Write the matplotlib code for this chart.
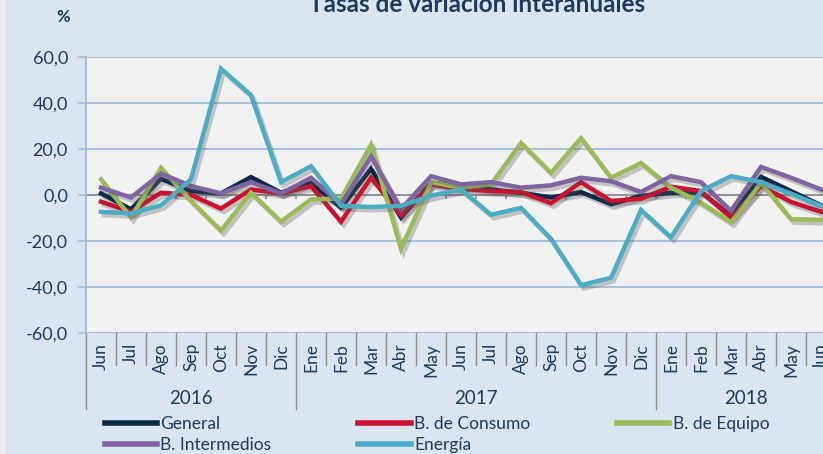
import matplotlib.pyplot as plt
import matplotlib.patheffects as pe
from matplotlib.transforms import blended_transform_factory
from matplotlib.patches import Rectangle
import numpy as np

# -----------------------data-----------------------
months = ['Jun', 'Jul', 'Ago', 'Sep', 'Oct', 'Nov', 'Dic',
          'Ene', 'Feb', 'Mar', 'Abr', 'May', 'Jun', 'Jul', 'Ago', 'Sep', 'Oct', 'Nov', 'Dic',
          'Ene', 'Feb', 'Mar', 'Abr', 'May', 'Jun']
years = ['2016', '2017', '2018']
year_start = [0, 7, 19]   # first month index of each year

general = [0.7, -6.2, 7.0, 1.7, 0.7, 7.8, 1.0, 5.3, -5.5, 11.4, -9.8, 5.3,
           3.9, 2.4, 1.0, -1.1, 1.3, -4.0, -0.4, 1.0, 1.3, -9.0, 7.9, 1.7, -4.5]
consumo = [-2.9, -7.3, 1.0, 0.0, -5.9, 2.4, 0.7, 3.9, -11.6, 7.5, -8.8, 4.6,
           2.7, 1.7, 1.3, -3.6, 5.6, -2.6, -1.6, 3.6, 1.7, -9.8, 3.9, -3.0, -7.3]
equipo = [6.8, -9.8, 11.8, -2.6, -15.5, 1.0, -11.6, -1.9, -1.6, 21.8, -23.4, 5.6,
          3.2, 4.6, 22.6, 9.6, 24.7, 7.5, 13.9, 3.2, -3.3, -11.9, 5.3, -10.5, -10.8]
intermedios = [3.2, -1.1, 9.3, 3.9, 0.7, 5.6, 0.7, 7.5, -4.0, 16.8, -6.2, 8.2,
               4.6, 5.6, 3.2, 4.2, 7.5, 6.0, 1.3, 8.2, 5.6, -6.9, 12.2, 7.5, 2.4]
energia = [-7.3, -8.0, -4.5, 6.8, 54.9, 43.4, 5.6, 12.5, -4.7, -5.2, -4.7, -0.3,
           2.4, -8.6, -5.6, -19.1, -39.2, -36.0, -6.5, -18.4, 1.7, 8.2, 5.6, 0.6, -4.7]

series = [('General', general, '#0b2a47'),
          ('B. de Consumo', consumo, '#cc1030'),
          ('B. de Equipo', equipo, '#9bbb59'),
          ('B. Intermedios', intermedios, '#8064a2'),
          ('Energía', energia, '#4bacc6')]

# -----------------------fig configuration-----------------------
plt.rcParams['font.family'] = ['Lato', 'DejaVu Sans']
navy = '#1c3a5e'
grid_blue = '#a7bfdc'
sep_gray = '#8c8c8c'
W, H = 823, 454

fig = plt.figure(figsize=(W / 100, H / 100), dpi=100)
fig.patch.set_facecolor('#dbe5f1')
fig.patches.append(Rectangle((0, 0), 6 / W, 1, transform=fig.transFigure,
                             facecolor='#ececec', edgecolor='none', zorder=0))

x = np.arange(len(months))
ax = fig.add_axes([86 / W, (H - 333) / H, 750 / W, 276 / H])
ax.set_facecolor('#f2f2f2')
ax.set_xlim(-0.5, len(months) - 0.5)
ax.set_ylim(-60, 60)

ax.set_yticks(np.arange(-60, 61, 20))
ax.set_yticklabels([f'{v:.1f}'.replace('.', ',') for v in np.arange(-60, 61, 20)],
                   fontsize=13, color=navy)
ax.tick_params(axis='y', length=6, color=grid_blue, width=1.2, pad=7)
ax.grid(axis='y', color=grid_blue, linewidth=1.5)
ax.set_axisbelow(True)
for s in ['top', 'right', 'bottom']:
    ax.spines[s].set_visible(False)
ax.spines['left'].set_color(grid_blue)
ax.spines['left'].set_linewidth(1.5)
ax.set_xticks([])

# category axis at zero with tick marks between months
ax.axhline(0, color='#8c8c8c', linewidth=1.2, zorder=1)
ax.vlines(x[:-1] + 0.5, -1.8, 0, color='#8c8c8c', linewidth=1.2, zorder=1)

# lines with shadow
handles = []
for name, vals, col in series:
    ln, = ax.plot(x, vals, color=col, linewidth=3.2, label=name, solid_joinstyle='miter',
                  path_effects=[pe.SimpleLineShadow(offset=(2, -2.5), shadow_color='#555555', alpha=0.3),
                                pe.Normal()], zorder=3)
    handles.append(ln)

# multi-level category labels
tr = blended_transform_factory(ax.transData, ax.transAxes)
px = 1 / 276   # one pixel in axes fraction (vertical)
for i, m in enumerate(months):
    ax.text(i, -10 * px, m, transform=tr, rotation=90, ha='center', va='top',
            fontsize=12.5, color=navy, clip_on=False)
bounds = [yi - 0.5 for yi in year_start] + [len(months) - 0.5]
for i in range(len(months) - 1):
    b = i + 0.5
    if b in bounds:
        continue
    ax.plot([b, b], [0, -32 * px], transform=tr, color=sep_gray, linewidth=1, clip_on=False)
for b in bounds[:-1]:
    ax.plot([b, b], [0, -76 * px], transform=tr, color=sep_gray, linewidth=1, clip_on=False)
for k, yr in enumerate(years):
    ax.text((bounds[k] + bounds[k + 1]) / 2, -65 * px, yr, transform=tr, ha='center', va='center',
            fontsize=13.5, color=navy, clip_on=False)

# title and unit
fig.text(477 / W, 1 - 12 / H, 'Tasas de variación interanuales', ha='center', va='baseline',
         fontsize=17.5, fontweight='bold', color=navy)
fig.text(63 / W, 1 - 17 / H, '%', ha='center', va='center', fontsize=12,
         fontweight='bold', color=navy)

# legend (row-wise order)
order = [0, 3, 1, 4, 2]
leg = fig.legend([handles[i] for i in order], [series[i][0] for i in order],
                 ncol=3, frameon=False, loc='upper left',
                 bbox_to_anchor=(98 / W, 1 - 409 / H), fontsize=12.5,
                 handlelength=3.0, handletextpad=0.2, columnspacing=5.0,
                 labelspacing=0.28, borderaxespad=0)
for t in leg.get_texts():
    t.set_color(navy)
for lh in leg.legend_handles:
    lh.set_path_effects([])
    lh.set_linewidth(4)

plt.savefig('out.png', dpi=100, facecolor=fig.get_facecolor())
